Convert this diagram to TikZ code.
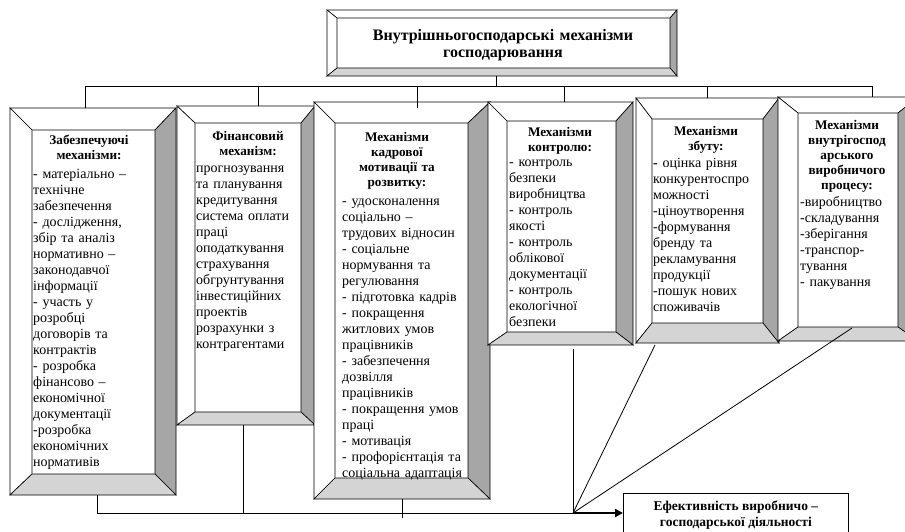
\documentclass[tikz,border=0pt]{standalone}
\usepackage{fontspec}
\setmainfont{Liberation Serif}
\usetikzlibrary{calc,fit,arrows.meta}
\definecolor{banddark}{RGB}{166,166,166}
\definecolor{bandlight}{RGB}{212,212,212}
\tikzset{
  bandline/.style={draw=black,line width=0.6pt,line join=miter},
  conn/.style={draw=black,line width=0.8pt},
  hdtext/.style={inner sep=0pt,anchor=base,align=center,text width=130pt,font=\bfseries\fontsize{13.2}{15}\selectfont},
  bodytext/.style={inner sep=0pt,anchor=base west,align=left,text width=140pt,font=\fontsize{14}{16}\selectfont},
}
% bevel box: name, outer x1,y1,x2,y2, inner x1,y1,x2,y2
\newcommand\bevbox[9]{%
  \coordinate (#1-o1) at (#2,#3);
  \coordinate (#1-o2) at (#4,#3);
  \coordinate (#1-o3) at (#4,#5);
  \coordinate (#1-o4) at (#2,#5);
  \coordinate (#1-i1) at (#6,#7);
  \coordinate (#1-i2) at (#8,#7);
  \coordinate (#1-i3) at (#8,#9);
  \coordinate (#1-i4) at (#6,#9);
  \fill[white] (#1-o1) rectangle (#1-o3);
  \path[bandline,fill=white] (#1-o1)--(#1-o2)--(#1-i2)--(#1-i1)--cycle;
  \path[bandline,fill=white] (#1-o1)--(#1-i1)--(#1-i4)--(#1-o4)--cycle;
  \path[bandline,fill=banddark] (#1-o2)--(#1-o3)--(#1-i3)--(#1-i2)--cycle;
  \path[bandline,fill=bandlight] (#1-o4)--(#1-i4)--(#1-i3)--(#1-o3)--cycle;
  \node[fit=(#1-o1)(#1-o3),inner sep=0pt] (#1) {};
}
\begin{document}
\begin{tikzpicture}[x=1pt,y=-1pt]
\useasboundingbox[fill=white] (0,0) rectangle (905,531);

% title
\bevbox{title}{327}{10}{677}{76}{337}{18}{670}{68}
\node[inner sep=0pt,anchor=base,align=center,text width=320pt,font=\bfseries\fontsize{16}{17}\selectfont] (ttl) at (503,40)
  {Внутрішньогосподарські механізми\\господарювання};

% boxes
\bevbox{b1}{10}{108}{176}{495}{32}{130}{155}{474}
\bevbox{b2}{177}{106}{315}{425}{195}{123}{301}{412}
\bevbox{b3}{314}{102}{490}{499}{335}{123}{468}{478}
\bevbox{b4}{488}{102}{633}{345}{507}{121}{616}{332}
\bevbox{b5}{636}{98}{779}{343}{652}{119}{763}{323}
\bevbox{b6}{778}{97}{918}{341}{798}{113}{898}{327}

% texts
\node[hdtext] (h1) at (89,144) {Забезпечуючі\\механізми:};
\node[bodytext] (t1) at (33,178) {- матеріально –\\технічне\\забезпечення\\- дослідження,\\збір та аналіз\\нормативно –\\законодавчої\\інформації\\- участь у\\розробці\\договорів та\\контрактів\\- розробка\\фінансово –\\економічної\\документації\\-розробка\\економічних\\нормативів};

\node[hdtext] (h2) at (248,140) {Фінансовий\\механізм:};
\node[bodytext] (t2) at (196,172) {прогнозування\\та планування\\кредитування\\система оплати\\праці\\оподаткування\\страхування\\обгрунтування\\інвестиційних\\проектів\\розрахунки з\\контрагентами};

\node[hdtext] (h3) at (397,141) {Механізми\\кадрової\\мотивації та\\розвитку:};
\node[bodytext] (t3) at (342,205) {- удосконалення\\соціально –\\трудових відносин\\- соціальне\\нормування та\\регулювання\\- підготовка кадрів\\- покращення\\житлових умов\\працівників\\- забезпечення\\дозвілля\\працівників\\- покращення умов\\праці\\- мотивація\\- профорієнтація та\\соціальна адаптація};

\node[hdtext] (h4) at (560,136) {Механізми\\контролю:};
\node[bodytext] (t4) at (509,166) {- контроль\\безпеки\\виробництва\\- контроль\\якості\\- контроль\\облікової\\документації\\- контроль\\екологічної\\безпеки};

\node[hdtext] (h5) at (706,135) {Механізми\\збуту:};
\node[bodytext] (t5) at (653,167) {\textbf{-} оцінка рівня\\конкурентоспро\\можності\\-ціноутворення\\-формування\\бренду та\\рекламування\\продукції\\-пошук нових\\споживачів};

\node[hdtext] (h6) at (847,129) {Механізми\\внутрігоспод\\арського\\виробничого\\процесу:};
\node[bodytext] (t6) at (800,206) {-виробництво\\-складування\\-зберігання\\-транспор-\\тування\\- пакування};

% result box
\node[draw,line width=0.8pt,anchor=north west,minimum width=225pt,minimum height=44pt,inner sep=0pt,align=center,
      font=\bfseries\fontsize{13.5}{16}\selectfont] (res) at (623,493)
  {Ефективність виробничо –\\господарської діяльності};

% top connectors
\coordinate (busL) at (85,86);
\coordinate (busR) at (872,86);
\coordinate (d0) at (496,86);
\coordinate (d2) at (258,86);
\coordinate (d3) at (417,86);
\coordinate (d4) at (564,86);
\coordinate (d5) at (707,86);
\draw[conn] (b1.north -| busL) -- (busL) -- (busR) -- (b6.north -| busR);
\draw[conn] (title.south -| d0) -- (d0);
\draw[conn] (d2) -- (d2 |- b2.north);
\draw[conn] (d3) -- ($(d3 |- b3.north)+(0,6)$);
\draw[conn] (d4) -- (d4 |- b4.north);
\draw[conn] (d5) -- (d5 |- b5.north);

% bottom connectors
\coordinate (join) at (573,513);
\coordinate (e1) at (97,513);
\coordinate (e2) at (243,513);
\coordinate (e3) at (402,513);
\coordinate (s5) at (655,345);
\coordinate (s6) at (852,328);
\draw[conn] (e1 |- b1.south) -- (e1) -- (join);
\draw[conn] (e2 |- b2.south) -- (e2);
\draw[conn] (e3 |- b3.south) -- ($(e3)+(0,5)$);
\draw[conn] ($(join |- b4.south)+(0,4)$) -- (join);
\draw[conn] (s5) -- (join);
\draw[conn] (s6) -- (join);
\draw[line width=2.4pt,-{Triangle[length=8pt,width=8pt]}] (join) -- (res.west |- join);
\end{tikzpicture}
\end{document}
